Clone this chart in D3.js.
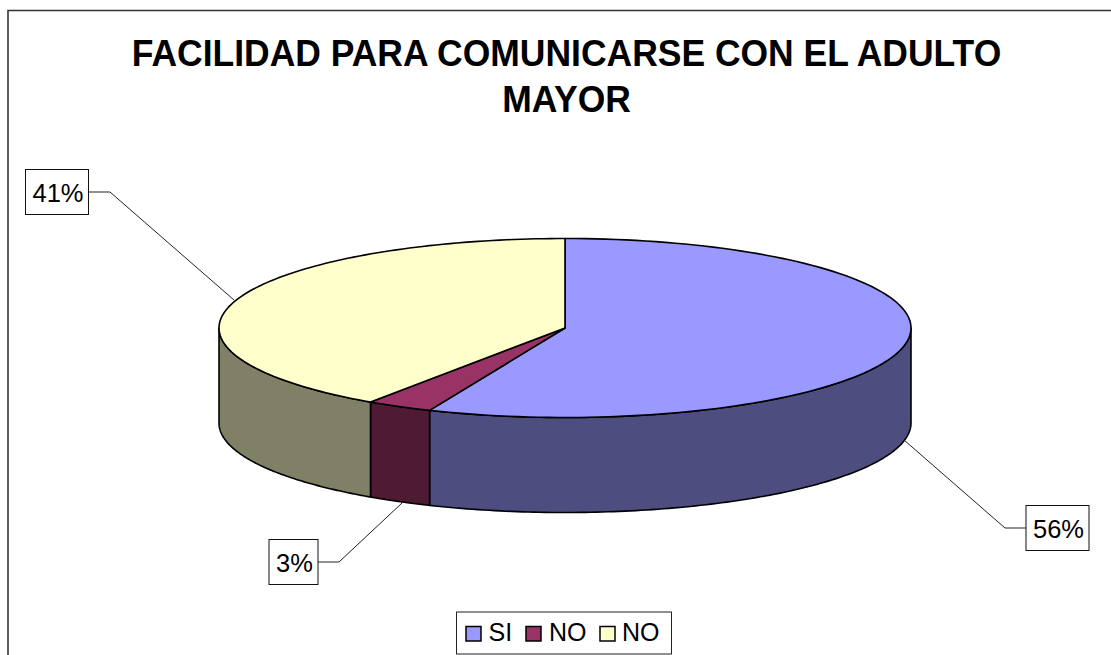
<!DOCTYPE html>
<html><head><meta charset="utf-8">
<script src="https://cdn.jsdelivr.net/npm/d3@7"></script>
<style>html,body{margin:0;padding:0;background:#fff;overflow:hidden}svg{display:block}text{font-family:"Liberation Sans",Arial,sans-serif;fill:#000}</style>
</head><body><svg id="c" width="1111" height="655"></svg>
<script>
const titleLines = ["FACILIDAD PARA COMUNICARSE CON EL ADULTO", "MAYOR"];
const categories = ["SI", "NO", "NO"];
const values = [56.4, 3.1, 40.5];
const labels = ["56%", "3%", "41%"];
const topColors = ["#9999FF", "#993366", "#FFFFCC"];
const sideColors = ["#4D4D80", "#4F1A33", "#808066"];

const svg = d3.select("#c");
const cx = 565, cy = 328, rx = 346, ry = 89.5, depth = 95;
const sx = d3.scaleLinear().domain([-1, 1]).range([cx - rx, cx + rx]);
const sy = d3.scaleLinear().domain([-1, 1]).range([cy - ry, cy + ry]);
const px = a => sx(Math.sin(a));
const py = a => sy(-Math.cos(a));

// chart frame, open on the right and bottom
svg.append("path").attr("d", "M8,655V10.5H1111").attr("fill", "none").attr("stroke", "#333").attr("stroke-width", 1.6);

// title
svg.selectAll("text.title").data(titleLines).join("text").attr("class", "title")
  .attr("x", 566.5).attr("y", (d, i) => 65.5 + i * 46).attr("text-anchor", "middle")
  .attr("font-size", 36).attr("font-weight", "bold").text(d => d)
  .attr("lengthAdjust", "spacingAndGlyphs")
  .attr("textLength", function () { return this.getComputedTextLength() * 0.985; });

const arcs = d3.pie().sort(null)(values);
const line = d3.line();
const samples = (a0, a1) => d3.range(0, 121).map(i => a0 + (a1 - a0) * i / 120);

// walls: only the front half of the cylinder (90deg to 270deg) is visible
const wallG = svg.append("g");
arcs.forEach((d, i) => {
  const a0 = Math.max(d.startAngle, Math.PI / 2), a1 = Math.min(d.endAngle, Math.PI * 1.5);
  if (a1 <= a0) return;
  const s = samples(a0, a1);
  const pts = s.map(a => [px(a), py(a)]).concat(s.slice().reverse().map(a => [px(a), py(a) + depth]));
  wallG.append("path").attr("d", line(pts) + "Z").attr("fill", sideColors[i])
    .attr("stroke", "#000").attr("stroke-width", 1.6).attr("stroke-linejoin", "round");
});

// top faces
const topG = svg.append("g");
arcs.forEach((d, i) => {
  const pts = [[cx, cy]].concat(samples(d.startAngle, d.endAngle).map(a => [px(a), py(a)]));
  topG.append("path").attr("d", line(pts) + "Z").attr("fill", topColors[i])
    .attr("stroke", "#000").attr("stroke-width", 1.6).attr("stroke-linejoin", "round");
});

// data labels with leader lines
const boxes = [
  {x: 1026, y: 505.5, w: 63, h: 45, lead: [[1026, 528], [1005, 528], [904, 440]]},
  {x: 269, y: 539.5, w: 49, h: 45, lead: [[318, 562], [339, 562], [402, 503]]},
  {x: 25.5, y: 169.5, w: 63, h: 45, lead: [[89, 192], [110, 192], [234, 300]]}
];
boxes.forEach((b, i) => {
  svg.append("path").attr("d", line(b.lead)).attr("fill", "none").attr("stroke", "#222").attr("stroke-width", 1);
  svg.append("rect").attr("x", b.x).attr("y", b.y).attr("width", b.w).attr("height", b.h)
    .attr("fill", "#fff").attr("stroke", "#111").attr("stroke-width", 1);
  svg.append("text").attr("x", b.x + b.w / 2 + 1).attr("y", b.y + 32).attr("text-anchor", "middle")
    .attr("font-size", 25.5).text(labels[i]);
});

// legend
svg.append("rect").attr("x", 456.5).attr("y", 612).attr("width", 215).attr("height", 42)
  .attr("fill", "#fff").attr("stroke", "#222").attr("stroke-width", 1);
const legendX = [466, 526, 600];
const legendTextX = [488.5, 549, 622];
categories.forEach((c, i) => {
  svg.append("rect").attr("x", legendX[i]).attr("y", 626.5).attr("width", 15).attr("height", 14.5)
    .attr("fill", topColors[i]).attr("stroke", "#000").attr("stroke-width", 1.5);
  svg.append("text").attr("x", legendTextX[i]).attr("y", 641).attr("font-size", 25).text(c);
});
</script></body></html>
